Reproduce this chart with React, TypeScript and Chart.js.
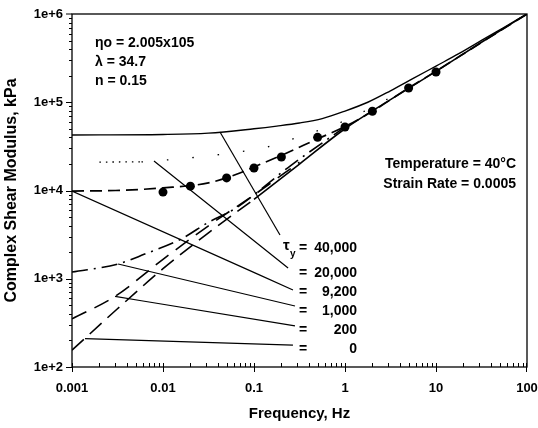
import React, { useEffect, useRef } from 'react';
import { Chart, registerables } from 'chart.js';

Chart.register(...registerables);

const FONT = "'Liberation Sans', Arial, Helvetica, sans-serif";

// Axis ticks
const xTicks = [0.001, 0.01, 0.1, 1, 10, 100];
const xTickLabels = ['0.001', '0.01', '0.1', '1', '10', '100'];
const yTicks = [100, 1000, 10000, 100000, 1000000];
const yTickLabels = ['1e+2', '1e+3', '1e+4', '1e+5', '1e+6'];

// Measured points (filled circles)
const measFreq = [0.01, 0.02, 0.05, 0.1, 0.2, 0.5, 1, 2, 5, 10];
const measG = [9600, 11200, 13900, 18000, 24000, 40000, 52500, 79000, 145000, 220000];

// Dashed fitted curve through the data
const fitFreq = [0.001, 0.003, 0.01, 0.0316, 0.07, 0.1, 0.2, 0.5, 1, 2, 5, 10, 30, 100];
const fitG = [9860, 10000, 10700, 12200, 15800, 18500, 25000, 38500, 53000, 79000, 145000, 225000, 460000, 1000000];

// Upper solid curve
const upperFreq = [0.001, 0.01, 0.0316, 0.1, 0.178, 0.316, 0.562, 1, 1.78, 3.16, 5.62, 10, 17.8, 31.6, 56.2, 100];
const upperG = [42600, 43150, 44670, 50100, 53700, 58200, 65300, 79400, 100000, 134900, 186200, 257000, 354800, 501200, 707900, 1000000];

// Dotted curve: dense part and sparse continuation
const dotFreq = [0.002, 0.0058];
const dotG = [21000, 21100];
const sparseFreq = [0.0058, 0.008, 0.03, 0.065, 0.113, 0.3, 1, 3];
const sparseG = [21100, 21600, 24500, 27300, 29500, 40000, 62000, 110000];

// Lowest rising dashed curve and the solid straight line it becomes
const zeroFreq = [0.001, 0.00316, 0.01, 0.0316, 0.1];
const zeroG = [155, 457, 1300, 3310, 7940];
const baseFreq = [0.1, 0.316, 1, 3.16, 10, 31.6, 100];
const baseG = [7940, 19950, 50100, 107000, 224000, 479000, 1000000];

// Second rising dashed curve
const lowFreq = [0.001, 0.00297, 0.01, 0.0316, 0.1, 0.316];
const lowG = [351, 631, 1660, 3980, 8910, 20900];

// Dash-dot rising curve
const midFreq = [0.001, 0.00321, 0.00631, 0.0158, 0.0316, 0.0631, 0.251, 1];
const midG = [1190, 1470, 1905, 2820, 4365, 6310, 19050, 52500];

// Yield stress leader lines
const yieldStress = ['40,000', '20,000', '9,200', '1,000', '200', '0'];
const leaderStartFreq = [0.0423, 0.00796, 0.001, 0.00321, 0.00297, 0.00139];
const leaderStartG = [46000, 21600, 9860, 1470, 631, 210];
const leaderEndFreq = [0.193, 0.237, 0.268, 0.282, 0.282, 0.268];
const leaderEndG = [3130, 1325, 747, 491, 292, 177];

const zip = (fs: number[], gs: number[]) => fs.map((f, i) => ({ x: f, y: gs[i] }));

const lineDs = (data: any[], dash: number[] = [], width = 1.5) => ({
  data,
  showLine: true,
  borderColor: '#000',
  backgroundColor: '#000',
  borderWidth: width,
  borderDash: dash,
  pointRadius: 0,
  fill: false,
  cubicInterpolationMode: 'monotone',
});

const decor = {
  id: 'decor',
  afterDraw(chart: any) {
    const { ctx, chartArea: a, scales } = chart;
    const xs = scales.x;
    const ys = scales.y;
    ctx.save();
    ctx.strokeStyle = '#000';
    ctx.lineWidth = 1.3;
    ctx.strokeRect(a.left, a.top, a.right - a.left, a.bottom - a.top);
    ctx.lineWidth = 1;
    ctx.beginPath();
    for (let e = -3; e < 2; e++) {
      for (let m = 1; m < 10; m++) {
        const px = Math.round(xs.getPixelForValue(m * Math.pow(10, e))) + 0.5;
        if (m === 1) {
          ctx.moveTo(px, a.bottom - 4);
          ctx.lineTo(px, a.bottom + 5);
        } else {
          ctx.moveTo(px, a.bottom);
          ctx.lineTo(px, a.bottom - 4);
        }
      }
    }
    ctx.moveTo(a.right - 0.5, a.bottom - 4);
    ctx.lineTo(a.right - 0.5, a.bottom + 5);
    for (let e = 2; e < 6; e++) {
      for (let m = 1; m < 10; m++) {
        const py = Math.round(ys.getPixelForValue(m * Math.pow(10, e))) + 0.5;
        if (m === 1) {
          ctx.moveTo(a.left - 6, py);
          ctx.lineTo(a.left, py);
        } else {
          ctx.moveTo(a.left - 3, py);
          ctx.lineTo(a.left, py);
        }
      }
    }
    const pt = ys.getPixelForValue(1e6);
    ctx.moveTo(a.left - 6, pt);
    ctx.lineTo(a.left, pt);
    ctx.stroke();

    ctx.fillStyle = '#000';
    ctx.textBaseline = 'middle';
    ctx.textAlign = 'left';
    ctx.font = `bold 14px ${FONT}`;
    ctx.fillText('\u03B7o = 2.005x105', 95, 43);
    ctx.fillText('\u03BB = 34.7', 95, 62);
    ctx.fillText('n = 0.15', 95, 81);

    ctx.textAlign = 'right';
    ctx.fillText('Temperature = 40\u00B0C', 516, 164);
    ctx.fillText('Strain Rate = 0.0005', 516, 184);

    const rows = [248, 273, 292, 311, 330, 349];
    rows.forEach((y, i) => {
      ctx.textAlign = 'left';
      ctx.font = `bold 14px ${FONT}`;
      ctx.fillText('=', 299, y);
      ctx.textAlign = 'right';
      ctx.fillText(yieldStress[i], 357, y);
    });
    ctx.textAlign = 'left';
    ctx.font = `bold 15px ${FONT}`;
    ctx.fillText('\u03C4', 283, 246);
    ctx.font = `bold 10px ${FONT}`;
    ctx.fillText('y', 290, 254);
    ctx.restore();
  },
};

export default function App() {
  const ref = useRef<HTMLCanvasElement | null>(null);
  useEffect(() => {
    document.body.style.margin = '0';
    const canvas = ref.current;
    if (!canvas) return;
    const datasets: any[] = [
      lineDs(zip(upperFreq, upperG), [], 1.4),
      lineDs(zip(fitFreq, fitG), [12, 6], 1.7),
      lineDs(zip(dotFreq, dotG), [1.5, 5], 1.3),
      lineDs(zip(sparseFreq, sparseG), [1.5, 24], 1.3),
      lineDs(zip(zeroFreq, zeroG), [16, 8], 1.6),
      lineDs(zip(baseFreq, baseG), [], 1.6),
      lineDs(zip(lowFreq, lowG), [16, 9], 1.6),
      lineDs(zip(midFreq, midG), [16, 6, 2, 6], 1.6),
      ...yieldStress.map((_, i) =>
        lineDs(
          [
            { x: leaderStartFreq[i], y: leaderStartG[i] },
            { x: leaderEndFreq[i], y: leaderEndG[i] },
          ],
          [],
          1.2
        )
      ),
      {
        data: zip(measFreq, measG),
        showLine: false,
        pointRadius: 4.5,
        pointStyle: 'circle',
        backgroundColor: '#000',
        borderColor: '#000',
        borderWidth: 0,
      },
    ];
    const tickFont = { family: FONT, size: 13, weight: 'bold' as const };
    const chart = new Chart(canvas, {
      type: 'scatter',
      data: { datasets },
      options: {
        responsive: false,
        animation: false,
        devicePixelRatio: 1,
        events: [],
        layout: { padding: { left: 0, top: 14, right: 11, bottom: 0 } },
        plugins: {
          legend: { display: false },
          tooltip: { enabled: false },
          title: { display: false },
        },
        scales: {
          x: {
            type: 'logarithmic',
            position: 'bottom',
            min: 0.001,
            max: 100,
            grid: { display: true, drawOnChartArea: false, drawTicks: true, tickLength: 5, color: 'rgba(0,0,0,0)' },
            border: { display: false },
            ticks: {
              color: '#000',
              font: tickFont,
              padding: 9,
              maxRotation: 0,
              autoSkip: false,
              callback: (_v: any, i: number) => xTickLabels[i],
            },
            afterBuildTicks: (s: any) => {
              s.ticks = xTicks.map((v) => ({ value: v }));
            },
            afterFit: (s: any) => {
              s.height = 61;
              s.paddingLeft = 0;
              s.paddingRight = 0;
            },
            title: {
              display: true,
              text: 'Frequency, Hz',
              color: '#000',
              font: { family: FONT, size: 15, weight: 'bold' },
              padding: { top: 0, bottom: 5 },
            },
          },
          y: {
            type: 'logarithmic',
            position: 'left',
            min: 100,
            max: 1000000,
            grid: { display: true, drawOnChartArea: false, drawTicks: true, tickLength: 5, color: 'rgba(0,0,0,0)' },
            border: { display: false },
            ticks: {
              color: '#000',
              font: tickFont,
              padding: 4,
              autoSkip: false,
              callback: (_v: any, i: number) => yTickLabels[i],
            },
            afterBuildTicks: (s: any) => {
              s.ticks = yTicks.map((v) => ({ value: v }));
            },
            afterFit: (s: any) => {
              s.width = 72;
              s.paddingTop = 0;
              s.paddingBottom = 0;
            },
            title: {
              display: true,
              text: 'Complex Shear Modulus, kPa',
              color: '#000',
              font: { family: FONT, size: 16, weight: 'bold' },
              padding: { top: 2, bottom: 0 },
            },
          },
        },
      } as any,
      plugins: [decor],
    });
    return () => chart.destroy();
  }, []);
  return (
    <div style={{ position: 'absolute', left: 0, top: 0, width: 538, height: 428, background: '#fff' }}>
      <canvas ref={ref} width={538} height={428} style={{ width: 538, height: 428, display: 'block' }} />
    </div>
  );
}
